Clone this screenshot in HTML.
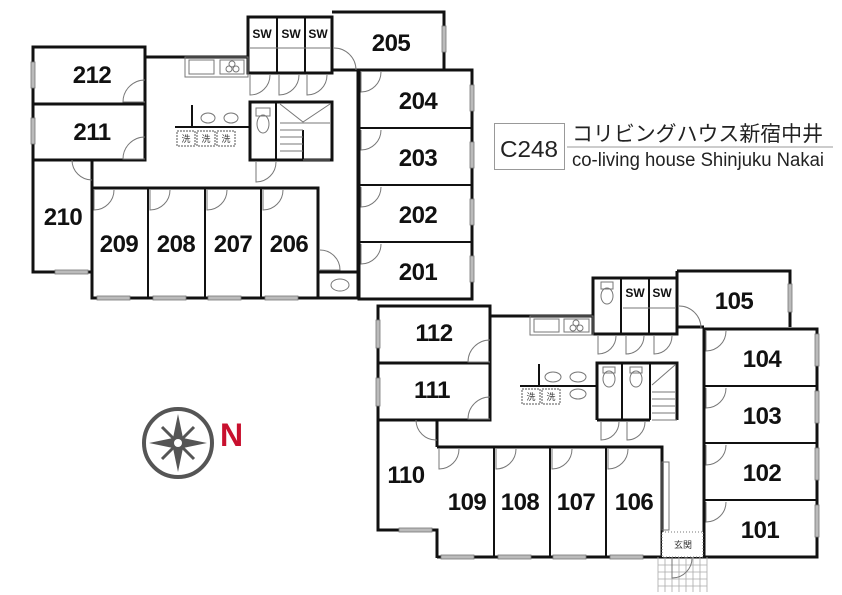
<!DOCTYPE html>
<html><head><meta charset="utf-8"><style>
html,body{margin:0;padding:0;background:#fff;}
svg{display:block;}
.n{font-family:"Liberation Sans",sans-serif;font-weight:bold;font-size:24px;fill:#111;text-anchor:middle;letter-spacing:-0.5px;}
.sw{font-family:"Liberation Sans",sans-serif;font-weight:bold;font-size:12px;fill:#111;text-anchor:middle;}
.w{fill:none;stroke:#111;stroke-width:3;}
.t{fill:none;stroke:#111;stroke-width:2;}
.d{fill:none;stroke:#777;stroke-width:1;}
.win{fill:#bbb;stroke:#777;stroke-width:0.8;}
.j{font-family:"Liberation Sans","Noto Sans CJK JP",sans-serif;font-size:9px;fill:#333;text-anchor:middle;}
</style></head><body>
<svg width="842" height="595" viewBox="0 0 842 595" xmlns="http://www.w3.org/2000/svg">
<!-- ===== 2F ===== -->
<g>
<path class="w" d="M145,57 H248 M92,188 V160 M92,188 H318 V298 H358 M332,17 V70 M358,70 V298"/>
<rect class="w" x="33" y="47" width="112" height="57"/>
<rect class="w" x="33" y="104" width="112" height="56"/>
<path class="w" d="M33,160 V272 H92 V298"/>
<rect class="w" x="248" y="17" width="84" height="56"/>
<path class="t" d="M277,17 V73 M305,17 V73"/>
<path class="d" d="M250,48 H330"/>
<path class="w" d="M332,12 H444 V70 M332,70 H358"/>
<rect class="w" x="359" y="70" width="113" height="229"/>
<path class="t" d="M359,128 H472 M359,185 H472 M359,242 H472"/>
<path class="w" d="M92,188 V298 H318"/>
<path class="t" d="M148,188 V298 M205,188 V298 M261,188 V298"/>
<path class="w" d="M318,272 H358"/>
<ellipse class="d" cx="340" cy="285" rx="9" ry="6"/>
<rect class="w" x="250" y="102" width="82" height="58"/>
<path class="t" d="M276,102 V160 M303,130 V160"/>
<rect class="d" x="256" y="108" width="14" height="8"/>
<ellipse class="d" cx="263" cy="124" rx="6" ry="9"/>
<path class="d" d="M280,104 L303,122 L330,104 M280,123 H330 M280,130 H303 M280,137 H303 M280,144 H303 M280,151 H303 M303,160 H330"/>
<path class="t" d="M175,127 H250 M192,105 V127"/>
<ellipse class="d" cx="208" cy="118" rx="7" ry="5"/>
<ellipse class="d" cx="231" cy="118" rx="7" ry="5"/>
<rect x="177" y="131" width="18" height="15" fill="none" stroke="#555" stroke-dasharray="2,1"/>
<rect x="197" y="131" width="18" height="15" fill="none" stroke="#555" stroke-dasharray="2,1"/>
<rect x="217" y="131" width="18" height="15" fill="none" stroke="#555" stroke-dasharray="2,1"/>
<text class="j" x="186" y="142">洗</text><text class="j" x="206" y="142">洗</text><text class="j" x="226" y="142">洗</text>
<rect class="d" x="185" y="57" width="63" height="20"/>
<rect class="d" x="189" y="60" width="25" height="14"/>
<rect class="d" x="220" y="60" width="24" height="14"/>
<circle class="d" cx="229" cy="69" r="3"/><circle class="d" cx="236" cy="69" r="3"/><circle class="d" cx="232" cy="64" r="3"/>
<path class="d" d="M145,80 A22,22 0 0 0 123,102 H145 M145,137 A22,22 0 0 0 123,159 H145 M72,160 A20,20 0 0 0 92,180 M94,190 V210 A20,20 0 0 0 114,190 M150,190 V210 A20,20 0 0 0 170,190 M207,190 V210 A20,20 0 0 0 227,190 M263,190 V210 A20,20 0 0 0 283,190 M250,75 V95 A20,20 0 0 0 270,75 M279,75 V95 A20,20 0 0 0 299,75 M307,75 V95 A20,20 0 0 0 327,75 M256,162 V182 A20,20 0 0 0 276,162 M361,72 V92 A20,20 0 0 0 381,72 M361,130 V150 A20,20 0 0 0 381,130 M361,187 V207 A20,20 0 0 0 381,187 M361,244 V264 A20,20 0 0 0 381,244 M334,48 A22,22 0 0 1 356,70 M320,250 A20,20 0 0 1 340,270 H320"/>
<rect class="win" x="31" y="62" width="4" height="26"/><rect class="win" x="31" y="118" width="4" height="26"/>
<rect class="win" x="55" y="270" width="33" height="4"/>
<rect class="win" x="97" y="296" width="33" height="4"/><rect class="win" x="153" y="296" width="33" height="4"/><rect class="win" x="208" y="296" width="33" height="4"/><rect class="win" x="265" y="296" width="33" height="4"/>
<rect class="win" x="442" y="26" width="4" height="26"/>
<rect class="win" x="470" y="85" width="4" height="26"/><rect class="win" x="470" y="142" width="4" height="26"/><rect class="win" x="470" y="199" width="4" height="26"/><rect class="win" x="470" y="256" width="4" height="26"/>
<text class="sw" x="262" y="38">SW</text><text class="sw" x="291" y="38">SW</text><text class="sw" x="318" y="38">SW</text>
<text class="n" x="92" y="83">212</text><text class="n" x="92" y="140">211</text><text class="n" x="63" y="225">210</text>
<text class="n" x="391" y="51">205</text>
<text class="n" x="418" y="109">204</text><text class="n" x="418" y="166">203</text><text class="n" x="418" y="223">202</text><text class="n" x="418" y="280">201</text>
<text class="n" x="119" y="252">209</text><text class="n" x="176" y="252">208</text><text class="n" x="233" y="252">207</text><text class="n" x="289" y="252">206</text>
</g>

<!-- ===== 1F ===== -->
<g>
<path class="w" d="M490,316 H593 M437,447 V420 M437,447 H662 V557 M677,271 V329 M704,329 V557"/>
<rect class="w" x="378" y="306" width="112" height="57"/>
<rect class="w" x="378" y="363" width="112" height="57"/>
<path class="w" d="M378,420 V530 H437 V558"/>
<rect class="w" x="593" y="278" width="84" height="56"/>
<path class="t" d="M621,278 V334 M649,278 V334"/>
<path class="d" d="M623,308 H675"/>
<rect class="d" x="601" y="282" width="12" height="7"/><ellipse class="d" cx="607" cy="296" rx="6" ry="8"/>
<path class="w" d="M677,271 H790 V327 M677,327 H704"/>
<rect class="w" x="704" y="329" width="113" height="228"/>
<path class="t" d="M704,386 H817 M704,443 H817 M704,500 H817"/>
<path class="w" d="M437,557 H704"/>
<path class="t" d="M494,447 V557 M550,447 V557 M606,447 V557"/>
<path class="w" d="M597,420 V363 H677 V420 M597,420 H650"/>
<path class="t" d="M622,363 V420 M650,363 V420"/>
<path class="d" d="M677,420 H652 M652,385 L675,365 M652,392 H675 M652,399 H675 M652,406 H675 M652,413 H675"/>
<rect class="d" x="603" y="367" width="12" height="6"/><ellipse class="d" cx="609" cy="379" rx="6" ry="8"/>
<rect class="d" x="630" y="367" width="12" height="6"/><ellipse class="d" cx="636" cy="379" rx="6" ry="8"/>
<path class="t" d="M520,386 H597 M539,364 V386"/>
<ellipse class="d" cx="553" cy="377" rx="8" ry="5"/>
<ellipse class="d" cx="578" cy="377" rx="8" ry="5"/><ellipse class="d" cx="578" cy="394" rx="8" ry="5"/>
<rect x="522" y="389" width="18" height="15" fill="none" stroke="#555" stroke-dasharray="2,1"/>
<rect x="542" y="389" width="18" height="15" fill="none" stroke="#555" stroke-dasharray="2,1"/>
<text class="j" x="531" y="400">洗</text><text class="j" x="551" y="400">洗</text>
<rect class="d" x="530" y="316" width="63" height="19"/>
<rect class="d" x="534" y="319" width="25" height="13"/><rect class="d" x="564" y="319" width="25" height="13"/>
<circle class="d" cx="573" cy="328" r="3"/><circle class="d" cx="580" cy="328" r="3"/><circle class="d" cx="576" cy="323" r="3"/>
<rect x="662" y="532" width="41" height="25" fill="#fff" stroke="#777" stroke-dasharray="1,2"/>
<text class="j" x="683" y="548">玄関</text>
<path d="M658,557 V592 M665,557 V592 M672,557 V592 M679,557 V592 M686,557 V592 M693,557 V592 M700,557 V592 M707,557 V592 M658,565 H707 M658,572 H707 M658,579 H707 M658,586 H707" stroke="#aaa" stroke-width="0.8" fill="none"/>
<rect class="d" x="662" y="462" width="7" height="68"/>
<path class="d" d="M490,340 A22,22 0 0 0 468,362 H490 M490,397 A22,22 0 0 0 468,419 H490 M416,420 A20,20 0 0 0 437,440 M439,449 V469 A20,20 0 0 0 459,449 M496,449 V469 A20,20 0 0 0 516,449 M552,449 V469 A20,20 0 0 0 572,449 M608,449 V469 A20,20 0 0 0 628,449 M598,336 V354 A18,18 0 0 0 616,336 M626,336 V354 A18,18 0 0 0 644,336 M654,336 V354 A18,18 0 0 0 672,336 M601,422 V440 A18,18 0 0 0 619,422 M627,422 V440 A18,18 0 0 0 645,422 M706,331 V351 A20,20 0 0 0 726,331 M706,388 V408 A20,20 0 0 0 726,388 M706,445 V465 A20,20 0 0 0 726,445 M706,502 V522 A20,20 0 0 0 726,502 M679,306 A22,22 0 0 1 701,328 M672,557 V578 A20,20 0 0 0 692,557"/>
<rect class="win" x="376" y="320" width="4" height="28"/><rect class="win" x="376" y="378" width="4" height="28"/>
<rect class="win" x="399" y="528" width="33" height="4"/>
<rect class="win" x="441" y="555" width="33" height="4"/><rect class="win" x="498" y="555" width="33" height="4"/><rect class="win" x="553" y="555" width="33" height="4"/><rect class="win" x="610" y="555" width="33" height="4"/>
<rect class="win" x="788" y="284" width="4" height="28"/>
<rect class="win" x="815" y="334" width="4" height="32"/><rect class="win" x="815" y="391" width="4" height="32"/><rect class="win" x="815" y="448" width="4" height="32"/><rect class="win" x="815" y="505" width="4" height="32"/>
<text class="sw" x="635" y="297">SW</text><text class="sw" x="662" y="297">SW</text>
<text class="n" x="434" y="341">112</text><text class="n" x="432" y="398">111</text><text class="n" x="406" y="483">110</text>
<text class="n" x="734" y="309">105</text>
<text class="n" x="762" y="367">104</text><text class="n" x="762" y="424">103</text><text class="n" x="762" y="481">102</text><text class="n" x="760" y="538">101</text>
<text class="n" x="467" y="510">109</text><text class="n" x="520" y="510">108</text><text class="n" x="576" y="510">107</text><text class="n" x="634" y="510">106</text>
</g>

<rect x="494.5" y="123.5" width="70" height="46" fill="none" stroke="#999" stroke-width="1"/>
<text x="529" y="157" font-family="Liberation Sans,sans-serif" font-size="23" fill="#222" text-anchor="middle" textLength="58" lengthAdjust="spacingAndGlyphs">C248</text>
<line x1="567" y1="147" x2="833" y2="147" stroke="#999" stroke-width="1"/>
<text x="572" y="141" font-family="Liberation Sans,'Noto Sans CJK JP',sans-serif" font-size="21" fill="#222" textLength="251" lengthAdjust="spacingAndGlyphs">コリビングハウス新宿中井</text>
<text x="572" y="166" font-family="Liberation Sans,sans-serif" font-size="19" fill="#222" textLength="252" lengthAdjust="spacingAndGlyphs">co-living house Shinjuku Nakai</text>

<circle cx="178" cy="443" r="34" fill="none" stroke="#555" stroke-width="4"/>
<path d="M178,414 L183,438 L207,443 L183,448 L178,472 L173,448 L149,443 L173,438 Z" fill="#555"/>
<path d="M162,427 L176,441 L180,445 L194,459 M194,427 L180,441 L176,445 L162,459" fill="none" stroke="#555" stroke-width="3"/>
<circle cx="178" cy="443" r="4" fill="#fff"/>
<text x="220" y="446" font-family="Liberation Sans,sans-serif" font-weight="bold" font-size="32" fill="#c8102e">N</text>
</svg>
</body></html>
